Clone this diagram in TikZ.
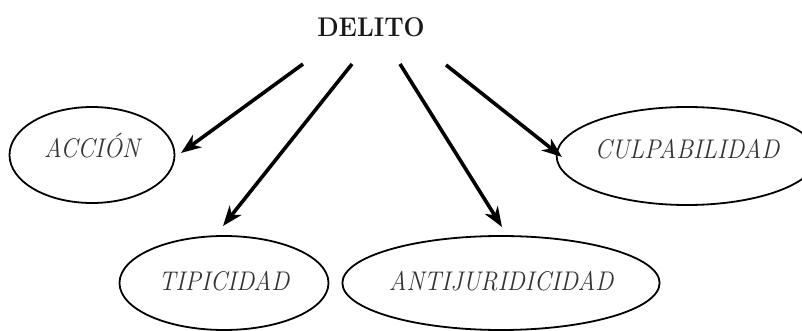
\documentclass[tikz,border=0pt]{standalone}
\usepackage{fontspec}
\usetikzlibrary{arrows.meta,shapes.geometric}
\newcommand{\cname}[1]{\scalebox{0.9}[1]{#1}}
\begin{document}
\begin{tikzpicture}[x=1pt,y=-1pt,
  concept/.style={draw=black, line width=1.8pt, ellipse, inner sep=0pt,
    font=\fontsize{27}{31}\selectfont\itshape, text=black!80},
  upper/.style={text height=13pt, text depth=8pt},
  lower/.style={text height=20pt, text depth=5pt},
  arr/.style={line width=3.6pt, -{Stealth[length=20pt,width=15pt,inset=6pt]}}]
\useasboundingbox (0,0) rectangle (802,331);
\node[font=\fontsize{27}{31}\selectfont\bfseries, text=black!90] (delito) at (371,27) {\scalebox{0.92}[1]{DELITO}};
\node[concept, upper, minimum width=165pt, minimum height=96pt] (accion) at (92,155) {\cname{ACCIÓN}};
\node[concept, upper, minimum width=230pt, minimum height=98pt] (culpa) at (687,156) {\cname{CULPABILIDAD}};
\node[concept, lower, minimum width=209pt, minimum height=94pt] (tipi) at (224,283) {\cname{TIPICIDAD}};
\node[concept, lower, minimum width=271pt, minimum height=94pt] (anti) at (501,283) {\cname{ANTIJURIDICIDAD}};
\coordinate (s1) at (303,64);
\coordinate (s2) at (352,64);
\coordinate (s3) at (400,64);
\coordinate (s4) at (446,65);
\coordinate (t1) at (181,153);
\coordinate (t2) at (223,226);
\coordinate (t3) at (502,227);
\coordinate (t4) at (562,157);
\draw[arr] (s1) -- (t1);
\draw[arr] (s2) -- (t2);
\draw[arr] (s3) -- (t3);
\draw[arr] (s4) -- (t4);
\end{tikzpicture}
\end{document}
